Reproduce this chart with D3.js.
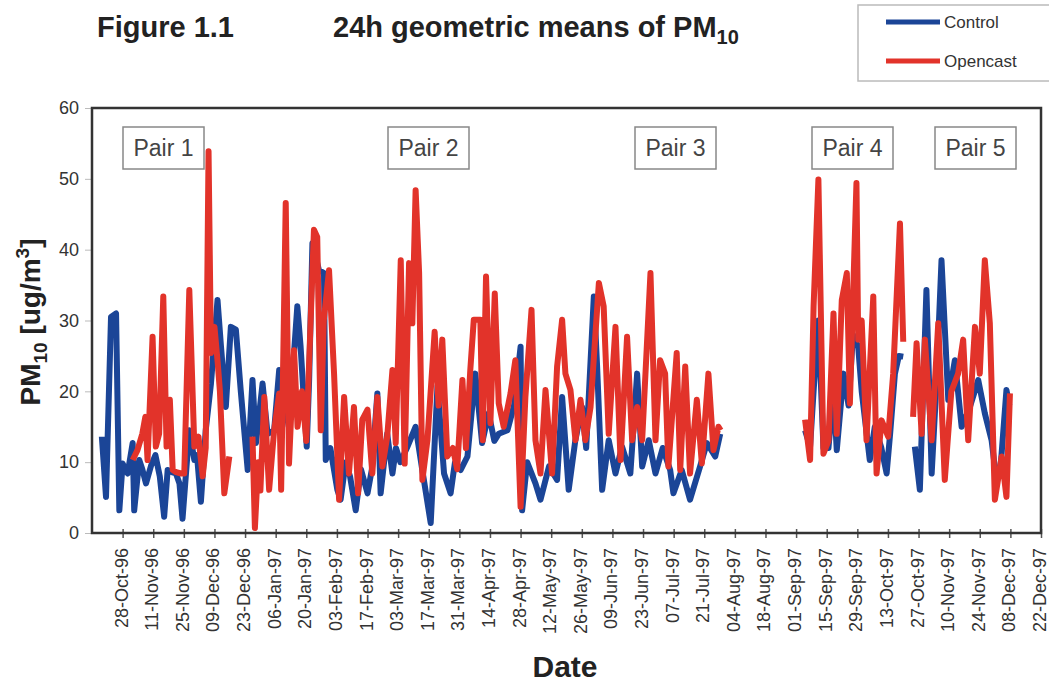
<!DOCTYPE html>
<html>
<head>
<meta charset="utf-8">
<script src="https://cdn.jsdelivr.net/npm/d3@7"></script>
<style>
  body { margin: 0; background: #fff; }
  svg { display: block; font-family: "Liberation Sans", Arial, sans-serif; }
</style>
</head>
<body>
<svg width="1049" height="683"></svg>
<script>
    const svg = d3.select("svg");
    const width = +svg.attr("width");
    const height = +svg.attr("height");
    const plot = { left: 92, right: 1041, top: 108, bottom: 533 };

    // dagar räknade från 14-Oct-96, null = lucka i serien
    const controlDays = [4.5,6.4,8.7,11,12.5,14,16.3,18.6,19.3,21.6,23,24.7,27,29,31,33,34.6,36.5,38.4,40,41.4,44.5,46.8,48,49.8,52,54.4,57.4,59,61.2,63.5,65.8,68,71.2,73.4,75,78,80.3,83.3,85.6,
      90,93.9,95.4,98.2,99.3,100.8,103.8,106.1,106.9,109,112.2,113.7,116,118,120.6,123,126,128,130.5,132,135,137.4,139,141,144,148,151,154.9,158,161,164,166,168.6,171.7,
      175.3,178.4,181.4,184,186,190,193,196,196.7,199,202.8,205.1,209,212.7,215,218,221,224.1,226,229.5,231,233.3,236.3,239.4,242.4,246.2,249.3,251.6,254.6,257.7,
      261,264.4,265.9,269.7,273.5,278.1,281.2,285,287.3,
      300,
      326.1,328.4,330,332.2,334.5,336.8,339.1,340.6,343.7,346,348,350.4,352,355.7,358,361,363.4,365,367.2,369,371,
      373.5,
      376.3,378.6,381.6,384,386,388.5,391.6,394.6,397.7,401.5,405.3,408.3,411.4,413,415.2,418.2,419.5];
    const controlValues = [13.6,5.1,30.5,31,3.2,9.8,8.4,12.7,3.2,10.3,9,7,9.5,11,8,2.3,8.9,8.6,8.4,7,2,14.5,10.3,11,4.4,14.5,21.1,32.9,26.3,17.8,29.1,28.7,20.2,8.9,21.6,12.7,21.1,14,14.5,23,
      15,32,26.3,12.2,21.6,40.9,37.1,36.7,10.3,12,6.1,4.7,10,8,3.2,9,5.6,9,19.7,5.6,14,8.4,12,10,12,15,9,1.4,20.7,8.4,5.6,10,8.9,10.8,
      22.5,12.7,16.9,13,14,14.5,18,26.3,3.2,10,7,4.7,9.4,7.5,19.2,6.1,13,17.8,12,33.4,23.5,6.1,13.1,8.4,12.2,8.4,22.5,9.4,13.1,8.4,
      12,8.9,5.6,8.9,4.7,9.4,12.7,10.8,14,
      null,
      14.5,12.2,20,30,12,12,20,11.7,22.5,18,28,26.3,20,10.3,15,12,8.4,14,22.5,25,24.9,
      null,
      12.2,6.1,34.3,8.4,20,38.5,18.8,24.4,15,17.8,21.6,16.9,13.1,9,8,20.2,18];

    const opencastDays = [18.6,20.8,23,24.4,25.4,27.7,29.2,30.7,32.6,34.1,35.6,36.9,38.5,40.7,42.2,44.5,46.8,48.7,50.6,52,53.3,54.4,56,57.5,58.5,60.5,62.8,
      68,
      73.4,74.5,76,77,78.8,81,83.3,85.6,86.5,88.6,90.1,92.4,94,96,98,101.5,103,104.6,106,108.4,110.7,113,115.3,117.5,119.8,121.7,123.6,126,128.2,130.5,132.8,135,137.4,138.9,
      141.2,143,145,146.5,148,149.6,151.1,153.4,156.7,158.5,160.2,162.5,165,167,169.4,171,173,174.6,177.6,178.7,180.2,182.2,184.2,186,188.3,191.4,193.6,196,198.2,201,202.8,
      205.1,207.4,210.4,212.7,215,216.5,218.8,221.1,223.4,225.6,228,231.8,234,236.3,239.4,241.7,244.7,247,249.3,251.6,255.4,257.7,259.8,262.1,263.6,265.6,267.4,269,271.3,
      273.5,276.6,278.9,281.9,284.2,286.5,287.5,
      300,
      326.1,328.4,330,332.2,334.5,336.8,339.1,340.6,342.9,345.2,346.6,349.6,350.4,352,354.2,357.3,358.8,361.1,364.1,366.4,369.5,371,
      373.5,
      375.5,377.1,379.4,380.9,384,387,390,393,396.1,398.4,400.7,403.8,406,408.3,410.6,412.9,416,418.2,419.8];
    const opencastValues = [10.3,11.7,14,16.4,10.3,27.7,12.2,14,33.4,12.2,18.8,8.9,8.6,8.4,8.4,34.3,12.2,13.6,8,12,53.9,25.4,29.1,24,20,5.6,10.8,
      null,
      13.6,0.7,10,6,19.2,6.1,14.5,19.7,6.1,46.6,9.8,25.8,15,20,13,42.8,41.8,14.5,30,37.1,22.5,4.7,19.2,8.4,17.8,5.6,16,17.4,8.4,19.2,9.4,13.6,23,12.7,
      38.5,9.8,38.1,29.6,48.4,36.7,7.5,13.1,28.4,18,27.3,10.8,12,9,21.6,12,23,30.1,30.1,13.1,36.2,15.5,33.8,18.3,15,19.7,24.4,3.7,19.2,31.5,13.1,
      8.4,20.2,8.4,23.5,30.1,22.5,20.2,13.1,18.8,13.1,17.8,35.3,32,14,29.1,10.3,27.7,13.1,17.8,13.1,36.7,13.1,24.4,22.5,9.4,17.8,25.4,8.9,23.5,
      8.4,18.8,9.8,22.5,11.7,15,14.5,
      null,
      16,10.3,32,49.9,11.2,13,31,14,32.9,36.7,18.3,49.4,27.3,30,13.1,33.4,8.4,15.9,13.6,22.5,43.7,27,
      null,
      16.4,26.8,14,27.3,13.1,29.6,7.5,20,22.5,27.3,13.1,29.1,22.5,38.5,29.6,4.7,10.8,5.1,19.7];

    const tickLabels = ["28-Oct-96","11-Nov-96","25-Nov-96","09-Dec-96","23-Dec-96","06-Jan-97","20-Jan-97","03-Feb-97",
      "17-Feb-97","03-Mar-97","17-Mar-97","31-Mar-97","14-Apr-97","28-Apr-97","12-May-97","26-May-97","09-Jun-97",
      "23-Jun-97","07-Jul-97","21-Jul-97","04-Aug-97","18-Aug-97","01-Sep-97","15-Sep-97","29-Sep-97","13-Oct-97",
      "27-Oct-97","10-Nov-97","24-Nov-97","08-Dec-97","22-Dec-97"];
    const yTicks = [0, 10, 20, 30, 40, 50, 60];
    const pairs = ["Pair 1", "Pair 2", "Pair 3", "Pair 4", "Pair 5"];
    const pairLeft = [123, 388, 635, 812, 935];

    const parse = d3.timeParse("%d-%b-%y");
    const origin = new Date(1996, 9, 14);
    const toDate = day => new Date(origin.getTime() + day * 864e5);

    const x = d3.scaleTime()
      .domain([origin, parse("22-Dec-97")])
      .range([plot.left, plot.right]);

    const y = d3.scaleLinear()
      .domain([0, 60])
      .range([plot.bottom, plot.top]);

    const control = controlDays.map((d, i) => ({ date: toDate(d), v: controlValues[i] }));
    const opencast = opencastDays.map((d, i) => ({ date: toDate(d), v: opencastValues[i] }));

    const line = d3.line()
      .defined(d => d.v != null)
      .x(d => x(d.date))
      .y(d => y(d.v));

    // Titel
    svg.append("text")
      .attr("x", 97).attr("y", 37)
      .style("font-size", "29px").style("font-weight", "bold").attr("fill", "#222")
      .text("Figure 1.1");

    const title = svg.append("text")
      .attr("x", 333).attr("y", 37)
      .style("font-size", "29px").style("font-weight", "bold").attr("fill", "#222");
    title.append("tspan").text("24h geometric means of PM");
    title.append("tspan").attr("dy", 7).style("font-size", "20px").text("10");

    // Legend
    svg.append("rect")
      .attr("x", 858).attr("y", 5).attr("width", 200).attr("height", 76)
      .attr("fill", "#fff").attr("stroke", "#bbb").attr("stroke-width", 1.5);
    [["Control", "#1b4597", 22], ["Opencast", "#e2332a", 61]].forEach(([name, c, ly]) => {
      svg.append("line")
        .attr("x1", 886).attr("x2", 940).attr("y1", ly).attr("y2", ly)
        .attr("stroke", c).attr("stroke-width", 5);
      svg.append("text")
        .attr("x", 944).attr("y", ly + 6)
        .style("font-size", "17px").attr("fill", "#333")
        .text(name);
    });

    // Axlar
    const xAxis = d3.axisBottom(x)
      .tickValues(tickLabels.map(parse))
      .tickSize(5)
      .tickFormat(d3.timeFormat("%d-%b-%y"));

    const gx = svg.append("g")
      .attr("class", "x-axis")
      .attr("transform", `translate(0,${plot.bottom})`)
      .call(xAxis);
    gx.select(".domain").remove();
    gx.selectAll(".tick line").attr("y1", -4).attr("y2", 5).attr("stroke", "#555").attr("stroke-width", 1.5);
    gx.selectAll(".tick text")
      .attr("transform", "rotate(-90)")
      .attr("x", -15).attr("y", -2).attr("dy", "0.36em")
      .style("text-anchor", "end")
      .style("font-size", "18px")
      .style("font-family", "'Liberation Sans', Arial, sans-serif")
      .attr("fill", "#333");

    const gy = svg.append("g")
      .attr("class", "y-axis")
      .attr("transform", `translate(${plot.left},0)`)
      .call(d3.axisLeft(y).tickValues(yTicks).tickSize(7).tickPadding(6));
    gy.select(".domain").remove();
    gy.selectAll(".tick line").attr("stroke", "#bbb");
    gy.selectAll(".tick text")
      .style("font-size", "18px")
      .style("font-family", "'Liberation Sans', Arial, sans-serif")
      .attr("fill", "#333");

    // Serier
    svg.append("path")
      .datum(control)
      .attr("d", line)
      .attr("fill", "none")
      .attr("stroke", "#1b4597")
      .attr("stroke-width", 6)
      .attr("stroke-linejoin", "round");

    svg.append("path")
      .datum(opencast)
      .attr("d", line)
      .attr("fill", "none")
      .attr("stroke", "#e2332a")
      .attr("stroke-width", 6)
      .attr("stroke-linejoin", "round");

    // Ram runt plotytan
    svg.append("rect")
      .attr("x", plot.left).attr("y", plot.top)
      .attr("width", plot.right - plot.left).attr("height", plot.bottom - plot.top)
      .attr("fill", "none").attr("stroke", "#333").attr("stroke-width", 2.5);

    // Pair-etiketter
    pairs.forEach((p, i) => {
      svg.append("rect")
        .attr("x", pairLeft[i]).attr("y", 127).attr("width", 81).attr("height", 42)
        .attr("fill", "#fff").attr("stroke", "#888").attr("stroke-width", 1.5);
      svg.append("text")
        .attr("x", pairLeft[i] + 40.5).attr("y", 156)
        .style("text-anchor", "middle")
        .style("font-size", "23px").attr("fill", "#444")
        .text(p);
    });

    // Axeltitlar
    svg.append("text")
      .attr("x", 565).attr("y", 677)
      .style("text-anchor", "middle")
      .style("font-size", "30px").style("font-weight", "bold").attr("fill", "#222")
      .text("Date");

    const yt = svg.append("text")
      .attr("transform", "translate(40,322) rotate(-90)")
      .style("text-anchor", "middle")
      .style("font-size", "28px").style("font-weight", "bold").attr("fill", "#222");
    yt.append("tspan").text("PM");
    yt.append("tspan").attr("dy", 7).style("font-size", "19px").text("10");
    yt.append("tspan").attr("dy", -7).text(" [ug/m");
    yt.append("tspan").attr("dy", -11).style("font-size", "19px").text("3");
    yt.append("tspan").attr("dy", 11).text("]");
</script>
</body>
</html>
